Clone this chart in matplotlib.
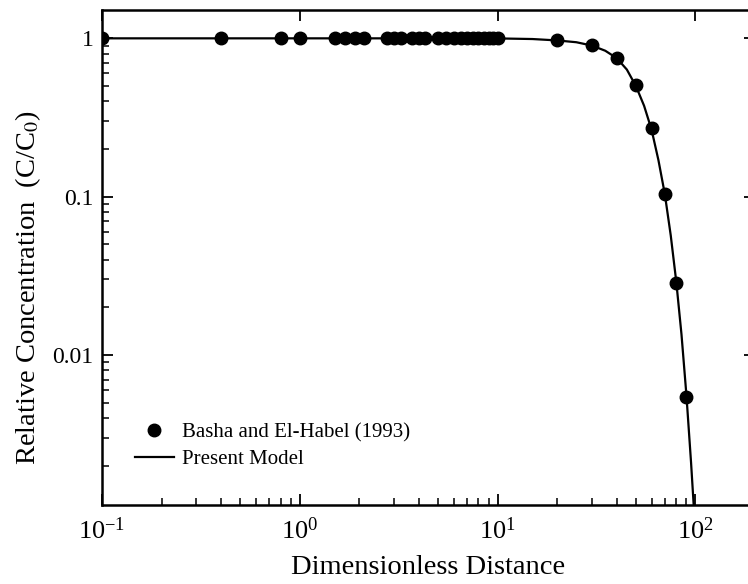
import matplotlib
matplotlib.use("Agg")
import matplotlib.pyplot as plt
from matplotlib.ticker import LogLocator, NullFormatter, FixedLocator, FixedFormatter

plt.rcParams['font.family'] = ['Liberation Serif', 'DejaVu Serif']
plt.rcParams['mathtext.fontset'] = 'stix'

# Basha and El-Habel (1993) data points
data_x = [0.1, 0.4, 0.8, 1.0, 1.5, 1.7, 1.9, 2.1, 2.75, 3.0, 3.25, 3.7, 4.0, 4.3,
          5.0, 5.5, 6.0, 6.5, 7.0, 7.5, 8.0, 8.5, 9.0, 9.5, 10.0,
          20, 30, 40, 50, 60, 70, 80, 90]
data_y = [1.0] * 25 + [0.98, 0.91, 0.75, 0.51, 0.27, 0.104, 0.0284, 0.0054]

# Present model curve
model_x = [0.1, 1, 5, 10, 15, 20, 25, 30, 35, 40, 45, 50, 55, 60, 65, 70, 75,
           80, 85, 90, 95, 98]
model_y = [1.0, 1.0, 1.0, 0.999, 0.99, 0.97, 0.945, 0.90, 0.835, 0.75, 0.635,
           0.50, 0.375, 0.265, 0.17, 0.104, 0.057, 0.029, 0.0135, 0.0056,
           0.0021, 0.00112]

fig = plt.figure(figsize=(7.48, 5.84), dpi=100)
ax = fig.add_axes([102/748, 1 - 505/584, (755 - 102)/748, (505 - 10)/584])

ax.plot(model_x, model_y, color='black', lw=1.6, label='Present Model', zorder=2)
ax.plot(data_x, data_y, 'o', color='black', ms=9, label='Basha and El-Habel (1993)',
        zorder=3)

ax.set_xscale('log')
ax.set_yscale('log')
ax.set_xlim(0.1, 200)
ax.set_ylim(0.00113, 1.51)

ax.yaxis.set_major_locator(FixedLocator([0.01, 0.1, 1]))
ax.yaxis.set_major_formatter(FixedFormatter(['0.01', '0.1', '1']))
ax.yaxis.set_minor_locator(LogLocator(base=10, subs=range(2, 10), numticks=20))
ax.yaxis.set_minor_formatter(NullFormatter())
ax.xaxis.set_minor_locator(LogLocator(base=10, subs=range(2, 10), numticks=20))
ax.xaxis.set_minor_formatter(NullFormatter())

ax.tick_params(which='major', direction='in', length=8, width=1.3,
               top=True, right=True)
ax.tick_params(axis='x', which='major', labelsize=19, pad=9)
ax.tick_params(axis='y', which='major', labelsize=17, pad=6)
ax.tick_params(which='minor', direction='in', length=5, width=1.1,
               top=False, right=False)
for s in ax.spines.values():
    s.set_linewidth(1.8)

ax.set_xlabel('Dimensionless Distance', fontsize=20.5, labelpad=8)
ax.set_ylabel(r'Relative Concentration  (C/C$_0$)', fontsize=20.5)
ax.yaxis.set_label_coords(-0.09, 0.44)

h, l = ax.get_legend_handles_labels()
ax.legend(h[::-1], l[::-1], loc='lower left', bbox_to_anchor=(0.022, 0.034),
          frameon=False, fontsize=15, handlelength=1.85, handletextpad=0.4,
          labelspacing=0.35)

fig.savefig('out.png', dpi=100)
